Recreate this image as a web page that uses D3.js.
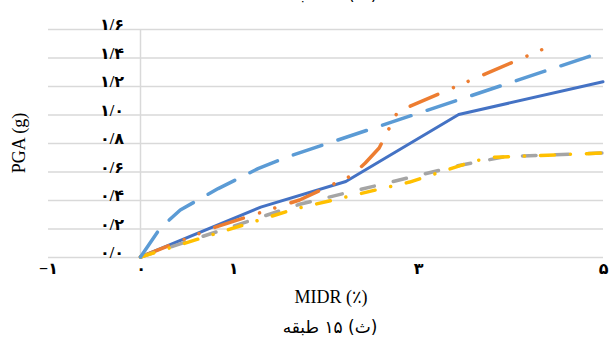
<!DOCTYPE html>
<html>
<head>
<meta charset="utf-8">
<script src="https://cdn.jsdelivr.net/npm/d3@7"></script>
<style>
  html, body { margin: 0; padding: 0; background: #fff; }
  svg { display: block; }
</style>
</head>
<body>
<svg id="chart" width="613" height="342"></svg>
<script>
// ---- data ----
const yTicks = [0, 0.2, 0.4, 0.6, 0.8, 1.0, 1.2, 1.4, 1.6];
const yTickLabels = ["۰/۰", "۰/۲", "۰/۴", "۰/۶", "۰/۸", "۱/۰", "۱/۲", "۱/۴", "۱/۶"];
const xTicks = [-1, 0, 1, 3, 5];
const xTickLabels = ["−۱", "۰", "۱", "۳", "۵"];

const midrS1 = [0, 1.30, 2.22, 3.44, 5.0];
const pgaS1  = [0, 0.35, 0.53, 1.00, 1.23];

const midrS2 = [0, 0.81, 1.72, 2.28, 2.43, 2.58, 2.78, 4.50];
const pgaS2  = [0, 0.21, 0.40, 0.57, 0.66, 0.765, 1.02, 1.50];

const midrS3 = [0, 1.72, 3.43, 3.95, 5.0];
const pgaS3  = [0, 0.37, 0.64, 0.705, 0.73];

const midrS4 = [0, 1.67, 2.91, 3.61, 3.83, 5.0];
const pgaS4  = [0, 0.337, 0.526, 0.674, 0.70, 0.73];

const midrS5 = [0, 0.21, 0.43, 0.84, 1.27, 1.62, 5.0];
const pgaS5  = [0, 0.20, 0.33, 0.48, 0.62, 0.71, 1.44];

const xTitle = "MIDR (٪)";
const yTitle = "PGA (g)";
const caption = "(ث) ۱۵ طبقه";
const prevCaption = "(ت) ۱۲ طبقه";

// ---- chart ----
const svg = d3.select("#chart");
const x = d3.scaleLinear().domain([-1, 5]).range([48, 603]);
const y = d3.scaleLinear().domain([0, 1.6]).range([257, 29]);

const gridColor = "#d9d9d9";
const labelFont = "'Liberation Serif', 'DejaVu Sans', serif";

// gridlines
const grid = svg.append("g")
  .attr("transform", `translate(${x(-1)},0)`)
  .call(d3.axisRight(y).tickValues(yTicks).tickSize(x(5) - x(-1)).tickFormat(""));
grid.select(".domain").remove();
grid.selectAll("line").attr("stroke", gridColor).attr("stroke-width", 1.5);

// vertical axis line at x = 0
svg.append("line")
  .attr("x1", x(0)).attr("x2", x(0))
  .attr("y1", y(1.6)).attr("y2", y(0))
  .attr("stroke", gridColor).attr("stroke-width", 1.5);

// y tick labels
const yAx = svg.append("g")
  .attr("transform", `translate(124,0)`)
  .call(d3.axisLeft(y).tickValues(yTicks).tickSize(0).tickPadding(0)
    .tickFormat((d, i) => yTickLabels[i]));
yAx.select(".domain").remove();
yAx.selectAll("text")
  .attr("font-family", labelFont)
  .attr("font-size", 16)
  .attr("font-weight", "bold")
  .attr("fill", "#000")
  .attr("dy", "0.05em")
  .attr("direction", "ltr");

// x tick labels
const xAx = svg.append("g")
  .attr("transform", `translate(0,${y(0)})`)
  .call(d3.axisBottom(x).tickValues(xTicks).tickSize(0).tickPadding(6)
    .tickFormat((d, i) => xTickLabels[i]));
xAx.select(".domain").remove();
xAx.selectAll("text")
  .attr("font-family", labelFont)
  .attr("font-size", 16)
  .attr("font-weight", "bold")
  .attr("fill", "#000")
  .attr("direction", "ltr");

// series
const series = [
  { xs: midrS1, ys: pgaS1, color: "#4472C4", dash: null, w: 3 },
  { xs: midrS2, ys: pgaS2, color: "#ED7D31", dash: "30 17 0.01 16 0.01 17", w: 3.5 },
  { xs: midrS3, ys: pgaS3, color: "#A5A5A5", dash: "13.5 19.5", w: 3.5 },
  { xs: midrS4, ys: pgaS4, color: "#FFC000", dash: "14 16 0.01 16", w: 3.5 },
  { xs: midrS5, ys: pgaS5, color: "#5B9BD5", dash: "30 17", w: 3.5 }
];
const line = d3.line().x(d => x(d[0])).y(d => y(d[1]));
series.forEach(s => {
  const pts = s.xs.map((v, i) => [v, s.ys[i]]);
  svg.append("path")
    .attr("d", line(pts))
    .attr("fill", "none")
    .attr("stroke", s.color)
    .attr("stroke-width", s.w)
    .attr("stroke-linecap", "round")
    .attr("stroke-linejoin", "round")
    .attr("stroke-dasharray", s.dash);
});

// axis titles
svg.append("text")
  .attr("x", 331).attr("y", 303)
  .attr("text-anchor", "middle")
  .attr("font-family", labelFont)
  .attr("font-size", 18)
  .text(xTitle);

svg.append("text")
  .attr("transform", "translate(25,143) rotate(-90)")
  .attr("text-anchor", "middle")
  .attr("font-family", labelFont)
  .attr("font-size", 18)
  .text(yTitle);

// captions
svg.append("text")
  .attr("x", 330).attr("y", 333)
  .attr("text-anchor", "middle")
  .attr("direction", "rtl")
  .attr("font-family", "'DejaVu Sans', serif")
  .attr("font-size", 17)
  .text(caption);

svg.append("text")
  .attr("x", 330).attr("y", 0)
  .attr("text-anchor", "middle")
  .attr("direction", "rtl")
  .attr("font-family", "'DejaVu Sans', serif")
  .attr("font-size", 17)
  .text(prevCaption);
</script>
</body>
</html>
